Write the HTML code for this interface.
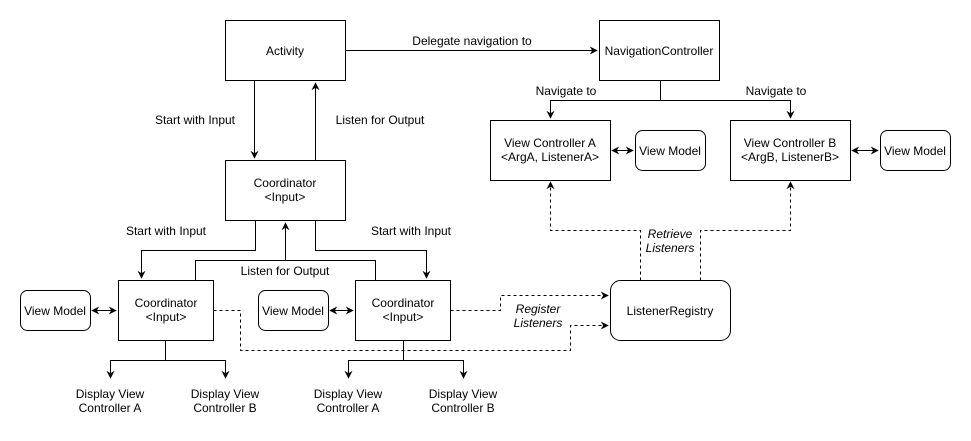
<!DOCTYPE html>
<html><head><meta charset="utf-8"><style>
html,body{margin:0;padding:0;background:#fff;}
svg{display:block;font-family:"Liberation Sans",Arial,sans-serif;font-size:12px;}
</style></head><body>
<svg width="971" height="441" viewBox="0 0 971 441" xmlns="http://www.w3.org/2000/svg">
<defs>
<marker id="a" viewBox="0 0 10 10" refX="9" refY="5" markerWidth="8" markerHeight="8" orient="auto-start-reverse" markerUnits="userSpaceOnUse"><path d="M0,0 L10,5 L0,10 L3,5 z" fill="#000"/></marker>
</defs>
<g fill="#fff" stroke="#000" stroke-width="1">
<rect x="225.5" y="20.5" width="120" height="60"/>
<rect x="599.5" y="20.5" width="120" height="60"/>
<rect x="490.5" y="120.5" width="120" height="60"/>
<rect x="635.5" y="130.5" width="70" height="40" rx="7"/>
<rect x="730.5" y="120.5" width="120" height="60"/>
<rect x="880.5" y="130.5" width="70" height="40" rx="7"/>
<rect x="225.5" y="160.5" width="120" height="60"/>
<rect x="118.5" y="280.5" width="95" height="60"/>
<rect x="355.5" y="280.5" width="95" height="60"/>
<rect x="20.5" y="290.5" width="70" height="40" rx="7"/>
<rect x="258.5" y="290.5" width="70" height="40" rx="7"/>
<rect x="610.5" y="280.5" width="120" height="60" rx="10"/>
</g>
<g fill="none" stroke="#000" stroke-width="1">
<path d="M345.5 50.5 H597" marker-end="url(#a)"/>
<path d="M254.5 80.5 V158" marker-end="url(#a)"/>
<path d="M315.5 160 V83" marker-end="url(#a)"/>
<path d="M660.5 80.5 V100.5 H550.5 V118" marker-end="url(#a)"/>
<path d="M660.5 100.5 H790.5 V118" marker-end="url(#a)"/>
<path d="M255.5 220.5 V250.5 H141.5 V278" marker-end="url(#a)"/>
<path d="M315.5 220.5 V250.5 H426.5 V278" marker-end="url(#a)"/>
<path d="M195.5 280.5 V260.5 H375.5 V280.5 M285.5 260.5 V223" marker-end="url(#a)"/>
<path d="M92 310.5 H116" marker-start="url(#a)" marker-end="url(#a)"/>
<path d="M330 310.5 H353" marker-start="url(#a)" marker-end="url(#a)"/>
<path d="M612 150.5 H633" marker-start="url(#a)" marker-end="url(#a)"/>
<path d="M852 150.5 H878" marker-start="url(#a)" marker-end="url(#a)"/>
<path d="M165.5 340.5 V360.5 H110.5 V378 M165.5 360.5 H225.5 V378" marker-end="url(#a)"/>
<path d="M110.5 360.5 V378" marker-end="url(#a)"/>
<path d="M403.5 340.5 V360.5 H348.5 V378 M403.5 360.5 H463.5 V378" marker-end="url(#a)"/>
<path d="M348.5 360.5 V378" marker-end="url(#a)"/>
</g>
<g fill="none" stroke="#000" stroke-width="1" stroke-dasharray="3,3">
<path d="M213.5 310.5 H240.5 V350.5 H570.5 V325.5 H608" marker-end="url(#a)"/>
<path d="M450.5 310.5 H500.5 V295.5 H608" marker-end="url(#a)"/>
<path d="M640.5 280.5 V230.5 H550.5 V182" marker-end="url(#a)"/>
<path d="M700.5 280.5 V230.5 H790.5 V182" marker-end="url(#a)"/>
</g>
<g text-anchor="middle" fill="#000">
<text x="285" y="55">Activity</text>
<text x="659" y="55">NavigationController</text>
<text x="550" y="147">View Controller A</text>
<text x="550" y="161">&lt;ArgA, ListenerA&gt;</text>
<text x="670" y="155">View Model</text>
<text x="790" y="147">View Controller B</text>
<text x="790" y="161">&lt;ArgB, ListenerB&gt;</text>
<text x="915" y="155">View Model</text>
<text x="285" y="187">Coordinator</text>
<text x="285" y="201">&lt;Input&gt;</text>
<text x="166" y="307">Coordinator</text>
<text x="166" y="321">&lt;Input&gt;</text>
<text x="403" y="307">Coordinator</text>
<text x="403" y="321">&lt;Input&gt;</text>
<text x="55" y="315">View Model</text>
<text x="293" y="315">View Model</text>
<text x="670" y="315">ListenerRegistry</text>
<text x="472" y="45">Delegate navigation to</text>
<text x="195" y="124">Start with Input</text>
<text x="380" y="124">Listen for Output</text>
<text x="566" y="95">Navigate to</text>
<text x="776" y="95">Navigate to</text>
<text x="166" y="235">Start with Input</text>
<text x="411" y="235">Start with Input</text>
<text x="285" y="275">Listen for Output</text>
<text x="110" y="398">Display View</text>
<text x="110" y="412">Controller A</text>
<text x="225" y="398">Display View</text>
<text x="225" y="412">Controller B</text>
<text x="348" y="398">Display View</text>
<text x="348" y="412">Controller A</text>
<text x="463" y="398">Display View</text>
<text x="463" y="412">Controller B</text>
<g font-style="italic">
<rect x="643" y="225" width="54" height="28" fill="#fff"/>
<text x="670" y="238">Retrieve</text>
<text x="670" y="252">Listeners</text>
<text x="538" y="313">Register</text>
<text x="538" y="327">Listeners</text>
</g>
</g>
</svg>
</body></html>
